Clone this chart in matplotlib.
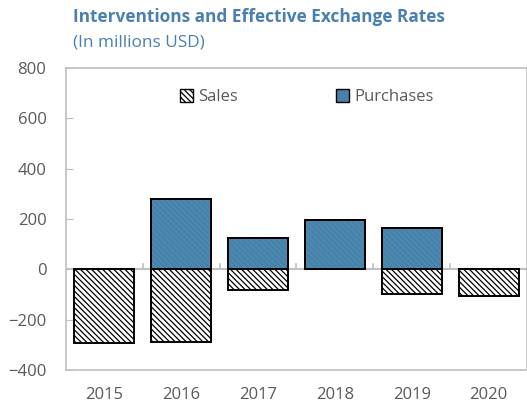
import matplotlib
matplotlib.use("Agg")
import matplotlib.pyplot as plt
from matplotlib.patches import Patch
import numpy as np

plt.rcParams["font.family"] = ["Open Sans", "DejaVu Sans"]
plt.rcParams["hatch.linewidth"] = 0.9

years = ["2015", "2016", "2017", "2018", "2019", "2020"]
purchases = [0, 281, 125, 194, 166, 0]
sales = [-293, -289, -83, 0, -99, -106]

BLUE = "#4682a9"
GRAY = "#bfbfbf"
TXT = "#595959"
HATCH = "\\" * 6

fig = plt.figure(figsize=(5.27, 4.07), dpi=100)
ax = fig.add_axes([0.125, 0.091, 0.875, 0.742])

x = np.arange(len(years))
w = 0.78

# sales: white with black diagonal hatch
ax.bar(x, sales, width=w, color="white", edgecolor="black",
       hatch=HATCH, linewidth=1.4, zorder=3)
# purchases: blue with a faint hatch on top
ax.bar(x, purchases, width=w, color=BLUE, edgecolor="black",
       linewidth=1.4, zorder=3)
ax.bar(x, purchases, width=w, fill=False, edgecolor="#4f8bb2",
       hatch=HATCH, linewidth=0, zorder=4)
ax.bar(x, purchases, width=w, fill=False, edgecolor="black",
       linewidth=1.4, zorder=5)

ax.set_xlim(-0.5, len(years) - 0.5)
ax.set_ylim(-400, 800)
ax.set_yticks(range(-400, 801, 200))
ax.set_xticks(x)
ax.set_xticklabels(years)

# zero line with small category separators
ax.axhline(0, color=GRAY, lw=1.5, zorder=2)
for b in np.arange(0.5, len(years) - 0.5):
    ax.plot([b, b], [0, 22], color=GRAY, lw=1.2, zorder=2)

for s in ax.spines.values():
    s.set_color(GRAY)
    s.set_linewidth(1.2)

ax.tick_params(axis="y", direction="in", length=5, color=GRAY,
               labelsize=12, labelcolor=TXT, pad=14)
ax.tick_params(axis="x", length=0, labelsize=12, labelcolor=TXT, pad=12)

handles = [Patch(facecolor="white", edgecolor="black", hatch=HATCH, label="Sales"),
           Patch(facecolor=BLUE, edgecolor="black", label="Purchases")]
leg = ax.legend(handles=handles, loc="upper center", bbox_to_anchor=(0.522, 0.98),
                ncol=2, frameon=False, fontsize=12, handlelength=0.8,
                handleheight=0.8, handletextpad=0.3, columnspacing=5.9)
for t in leg.get_texts():
    t.set_color(TXT)

fig.text(0.138, 0.945, "Interventions and Effective Exchange Rates",
         fontsize=12.4, fontweight="bold", color="#4a7fb0")
fig.text(0.138, 0.885, "(In millions USD)", fontsize=12.4, color="#4a7fb0")

fig.savefig("out.png", dpi=100)
